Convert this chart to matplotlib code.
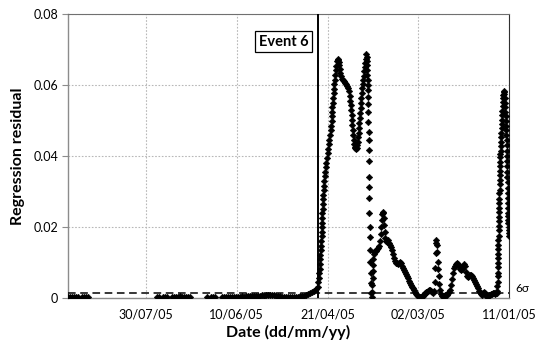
import numpy as np
import pandas as pd
import matplotlib
matplotlib.use("Agg")
import matplotlib.pyplot as plt
import matplotlib.dates as mdates
from matplotlib.transforms import blended_transform_factory

plt.rcParams['font.family'] = ['Lato', 'DejaVu Sans']

# time is counted in days from 11/01/05
base = pd.Timestamp('2005-01-11')

# quiet period before the event (sparse clusters, then continuous)
quiet_days = [242.8, 241.7, 240.6, 239.5, 238.4, 237.3,
              235.1, 234.0, 232.9, 231.8,
              193.8, 192.7, 190.5, 189.4, 188.3,
              185.5, 184.4, 183.3, 182.2, 181.1, 180.0, 178.9, 177.8, 176.7, 175.6,
              166.3, 164.0, 162.9, 161.8,
              158.0, 156.9, 155.8, 154.7, 153.6, 152.5, 151.4, 150.3, 149.2,
              148.1, 147.0, 145.9, 144.8, 143.7, 142.6, 141.5, 140.4, 139.3, 138.2,
              137.1, 136.0, 134.9, 133.8, 132.7, 131.6, 130.5, 129.4, 128.3, 127.2,
              126.1, 125.0, 123.9, 122.8, 121.7, 120.6, 119.5, 118.4, 117.3, 116.2,
              115.1, 114.0, 112.9, 111.8, 110.7, 109.6, 108.5, 107.4, 106.3]
quiet_resid = [0.0002, 0.0003, 0.0001, 0.0002, 0.0003, 0.0002,
               0.0003, 0.0002, 0.0002, 0.0003,
               0.0002, 0.0003, 0.0002, 0.0001, 0.0003,
               0.0002, 0.0003, 0.0001, 0.0002, 0.0004, 0.0002, 0.0003, 0.0001, 0.0002, 0.0003,
               0.0002, 0.0001, 0.0003, 0.0002,
               0.0001, 0.0002, 0.0001, 0.0002, 0.0002, 0.0003, 0.0002, 0.0003, 0.0003,
               0.0003, 0.0004, 0.0003, 0.0004, 0.0005, 0.0004, 0.0005, 0.0005, 0.0006, 0.0006,
               0.0006, 0.0007, 0.0006, 0.0007, 0.0007, 0.0008, 0.0007, 0.0007, 0.0006, 0.0005,
               0.0004, 0.0003, 0.0002, 0.0002, 0.0001, 0.0001, 0.0001, 0.0002, 0.0002, 0.0003,
               0.0004, 0.0005, 0.0006, 0.0008, 0.0010, 0.0012, 0.0015, 0.0019, 0.0024]

# event 6: steep rise, double peak and drop
event_days = [105.4, 105.1, 104.9, 104.6, 104.4, 104.3, 104.1, 103.9, 103.8, 103.6,
              103.5, 103.3, 103.1, 103.0, 102.9, 102.8, 102.8, 102.7, 102.6, 102.4,
              102.3, 102.2, 101.9, 101.7, 101.5, 101.2, 101.0, 100.7, 100.3, 100.0,
              99.7, 99.3, 99.0, 98.5, 98.1, 97.9, 97.8, 97.5, 97.4, 97.3,
              97.1, 96.8, 96.7, 96.5, 96.2, 96.0, 95.8, 95.6, 95.3, 94.9,
              94.4, 94.1, 93.9, 93.6, 93.3, 93.0, 92.5, 91.9, 91.4, 90.8,
              90.3, 89.7, 89.2, 88.6, 88.1, 87.7, 87.4, 87.1, 86.9, 86.7,
              86.5, 86.3, 86.0, 85.8, 85.5, 85.2, 84.9, 84.6, 84.2, 83.9,
              83.6, 83.3, 83.0, 82.8, 82.6, 82.4, 82.1, 81.9, 81.7, 81.5,
              81.3, 81.0, 80.8, 80.5, 80.2, 79.9, 79.7, 79.4, 79.2, 78.9,
              78.7, 78.28, 78.17, 78.11, 78.06, 78.00, 77.95, 77.89, 77.84, 77.73,
              77.62, 77.51, 77.45, 77.40, 77.34, 77.29, 77.23, 77.18, 77.07, 77.01,
              76.90, 76.79, 76.68, 76.57, 76.41, 76.24, 76.08, 75.86, 75.64]
event_resid = [0.0030, 0.0043, 0.0056, 0.0069, 0.0082, 0.0095, 0.0108, 0.0121, 0.0134, 0.0147,
               0.0160, 0.0173, 0.0186, 0.0199, 0.0212, 0.0225, 0.0238, 0.0251, 0.0264, 0.0277,
               0.0290, 0.0303, 0.0316, 0.0329, 0.0342, 0.0355, 0.0368, 0.0381, 0.0394, 0.0407,
               0.0420, 0.0433, 0.0446, 0.0459, 0.0472, 0.0485, 0.0498, 0.0511, 0.0524, 0.0537,
               0.0550, 0.0563, 0.0576, 0.0589, 0.0602, 0.0615, 0.0628, 0.0641, 0.0654, 0.0667,
               0.0670, 0.0672, 0.0665, 0.0655, 0.0645, 0.0635, 0.0625, 0.0618, 0.0614, 0.0610,
               0.0606, 0.0602, 0.0597, 0.0590, 0.0582, 0.0570, 0.0556, 0.0542, 0.0528, 0.0514,
               0.0500, 0.0486, 0.0472, 0.0458, 0.0445, 0.0434, 0.0426, 0.0421, 0.0419, 0.0422,
               0.0430, 0.0440, 0.0452, 0.0465, 0.0479, 0.0493, 0.0507, 0.0521, 0.0535, 0.0549,
               0.0563, 0.0577, 0.0590, 0.0602, 0.0614, 0.0626, 0.0638, 0.0650, 0.0662, 0.0674,
               0.0686, 0.0680, 0.0668, 0.0655, 0.0642, 0.0629, 0.0615, 0.0600, 0.0585, 0.0565,
               0.0545, 0.0524, 0.0496, 0.0468, 0.0444, 0.0416, 0.0386, 0.0341, 0.0313, 0.0280,
               0.0238, 0.0200, 0.0172, 0.0134, 0.0100, 0.0070, 0.0041, 0.0012, 0.0003]

# recovery with smaller bursts
recovery_days = [75.4, 75.3, 75.2, 75.1, 75.0, 74.8, 74.6, 74.3, 73.8, 73.2,
                 72.7, 72.1, 71.6, 71.1, 70.7, 70.5, 70.2, 69.9, 69.6, 69.3,
                 69.0, 68.7, 68.4, 68.1, 67.7, 67.2, 66.6, 66.1, 65.5, 65.0,
                 64.4, 63.9, 63.3, 62.8, 62.2, 61.7, 61.1, 60.6, 60.0, 59.5,
                 58.9, 58.4, 57.8, 57.3, 56.7, 56.2, 55.6, 55.1, 54.5, 54.0,
                 53.4, 52.9, 52.3, 51.8, 51.2, 50.7, 50.1, 49.6, 49.0, 48.4,
                 47.9, 47.3, 46.8, 46.2, 45.7, 45.1, 44.6, 44.0, 43.5, 42.9,
                 42.4, 41.8, 41.3, 41.0, 40.7, 40.5, 40.3, 40.1, 39.8, 39.5,
                 39.3, 39.0, 38.7, 38.3, 38.0, 37.4, 36.9, 36.3, 35.8, 35.2,
                 34.7, 34.1, 33.6, 33.0, 32.5, 31.9, 31.4, 30.8, 30.3, 29.7,
                 29.2, 28.6, 28.1, 27.5, 27.0, 26.4, 25.9, 25.3, 24.8, 24.2,
                 23.7, 23.1, 22.6, 22.0, 21.5, 20.9, 20.4, 19.8, 19.3, 18.7,
                 18.2, 17.6, 17.1, 16.5, 16.0, 15.4, 14.9, 14.3, 13.8, 13.2,
                 12.7, 12.1, 11.6, 11.0, 10.5, 9.9, 9.4, 8.8, 8.3, 7.7,
                 7.2, 6.7]
recovery_resid = [0.0015, 0.0035, 0.0055, 0.0075, 0.0093, 0.0110, 0.0122, 0.0128, 0.0131, 0.0133,
                  0.0136, 0.0140, 0.0146, 0.0160, 0.0180, 0.0200, 0.0220, 0.0235, 0.0242, 0.0238,
                  0.0225, 0.0205, 0.0185, 0.0168, 0.0160, 0.0158, 0.0162, 0.0155, 0.0148, 0.0143,
                  0.0135, 0.0122, 0.0112, 0.0104, 0.0099, 0.0097, 0.0096, 0.0099, 0.0100, 0.0098,
                  0.0090, 0.0083, 0.0078, 0.0073, 0.0067, 0.0060, 0.0055, 0.0048, 0.0041, 0.0035,
                  0.0030, 0.0026, 0.0021, 0.0016, 0.0011, 0.0007, 0.0004, 0.0003, 0.0002, 0.0003,
                  0.0005, 0.0006, 0.0009, 0.0012, 0.0015, 0.0017, 0.0019, 0.0021, 0.0021, 0.0020,
                  0.0016, 0.0014, 0.0020, 0.0045, 0.0085, 0.0125, 0.0155, 0.0163, 0.0150, 0.0128,
                  0.0102, 0.0080, 0.0060, 0.0040, 0.0022, 0.0010, 0.0006, 0.0005, 0.0006, 0.0007,
                  0.0007, 0.0008, 0.0012, 0.0017, 0.0023, 0.0035, 0.0052, 0.0070, 0.0084, 0.0090,
                  0.0094, 0.0097, 0.0094, 0.0088, 0.0080, 0.0078, 0.0082, 0.0090, 0.0096, 0.0090,
                  0.0072, 0.0062, 0.0059, 0.0061, 0.0063, 0.0064, 0.0061, 0.0055, 0.0050, 0.0045,
                  0.0038, 0.0032, 0.0026, 0.0020, 0.0015, 0.0010, 0.0008, 0.0012, 0.0016, 0.0014,
                  0.0006, 0.0004, 0.0006, 0.0008, 0.0009, 0.0010, 0.0011, 0.0012, 0.0012, 0.0011,
                  0.0012, 0.0014]

# last burst at the start of the record
early_days = [6.44, 6.39, 6.33, 6.28, 6.22, 6.17, 6.11, 6.06, 6.00, 5.95,
              5.89, 5.84, 5.78, 5.73, 5.67, 5.62, 5.56, 5.51, 5.45, 5.39,
              5.34, 5.28, 5.23, 5.17, 5.12, 5.06, 5.01, 4.95, 4.90, 4.84,
              4.73, 4.62, 4.51, 4.40, 4.29, 4.18, 4.07, 3.96, 3.85, 3.74,
              3.63, 3.52, 3.41, 3.30, 3.14, 2.92, 2.70, 2.48, 2.31, 2.20,
              2.09, 1.98, 1.87, 1.76, 1.65, 1.54, 1.43, 1.32, 1.21, 1.10,
              1.05, 0.99, 0.94, 0.88, 0.83, 0.77, 0.72, 0.66, 0.61, 0.55,
              0.50, 0.44, 0.39, 0.33, 0.28, 0.22, 0.17, 0.11, 0.06]
early_resid = [0.0020, 0.0034, 0.0045, 0.0060, 0.0071, 0.0086, 0.0097, 0.0112, 0.0123, 0.0138,
               0.0149, 0.0164, 0.0175, 0.0190, 0.0201, 0.0216, 0.0227, 0.0242, 0.0253, 0.0268,
               0.0279, 0.0294, 0.0305, 0.0320, 0.0331, 0.0346, 0.0357, 0.0372, 0.0383, 0.0397,
               0.0405, 0.0415, 0.0428, 0.0440, 0.0452, 0.0465, 0.0478, 0.0490, 0.0502, 0.0515,
               0.0527, 0.0540, 0.0552, 0.0562, 0.0572, 0.0580, 0.0583, 0.0575, 0.0563, 0.0550,
               0.0537, 0.0524, 0.0511, 0.0498, 0.0485, 0.0472, 0.0459, 0.0445, 0.0430, 0.0415,
               0.0400, 0.0385, 0.0370, 0.0355, 0.0340, 0.0325, 0.0310, 0.0295, 0.0280, 0.0266,
               0.0252, 0.0240, 0.0230, 0.0220, 0.0210, 0.0200, 0.0190, 0.0182, 0.0175]

threshold = 0.0014          # 6 sigma
event_day = 105.5
x_ticks = [0, 50, 100, 150, 200]
y_ticks = [0, 0.02, 0.04, 0.06, 0.08]
y_ticklabels = ['0', '0.02', '0.04', '0.06', '0.08']


def to_dates(days):
    return base + pd.to_timedelta(np.asarray(days), unit='D')


days = quiet_days + event_days + recovery_days + early_days
resid = quiet_resid + event_resid + recovery_resid + early_resid

fig = plt.figure(figsize=(5.42, 3.53), dpi=100)
ax = fig.add_axes([68/542, 1-297.7/353, (509-68)/542, (297.7-14)/353])

ax.plot(to_dates(days), resid, linestyle='none', marker='D', ms=3.3,
        mfc='black', mec='black', mew=0.4, zorder=3)

ax.axhline(threshold, color='black', lw=1.1, ls=(0, (5, 3)), zorder=4)
ax.axvline(to_dates([event_day])[0], color='black', lw=1.4, zorder=4)

ax.text(to_dates([124.3])[0], 0.0722, 'Event 6', ha='center', va='center',
        fontsize=10.5, fontweight='bold', zorder=5,
        bbox=dict(boxstyle='square,pad=0.25', fc='white', ec='black', lw=0.9))

trans = blended_transform_factory(ax.transAxes, ax.transData)
ax.text(1.015, 0.0027, '6σ', transform=trans, ha='left', va='center', fontsize=8.5)

ax.set_xlim(to_dates([243])[0], base)
ax.set_ylim(0, 0.08)
ax.set_xticks(to_dates(x_ticks))
ax.xaxis.set_major_formatter(mdates.DateFormatter('%d/%m/%y'))
ax.set_yticks(y_ticks)
ax.set_yticklabels(y_ticklabels)
ax.tick_params(axis='x', length=0, labelsize=9, pad=8)
ax.tick_params(axis='y', length=4, color='#8c8c8c', labelsize=9, pad=3)

ax.grid(True, color='#b8b8b8', lw=0.8, ls=(0, (1.5, 1.5)), zorder=0)
ax.set_axisbelow(True)

for side in ['left', 'bottom']:
    ax.spines[side].set_color('#8c8c8c')
    ax.spines[side].set_linewidth(1.0)
ax.spines['right'].set_color('#303030')
ax.spines['top'].set_color('#707070')
ax.spines['top'].set_linestyle((0, (2, 1)))

ax.set_xlabel('Date (dd/mm/yy)', fontsize=11.5, fontweight='bold', labelpad=3)
ax.set_ylabel('Regression residual', fontsize=11.5, fontweight='bold', labelpad=6)

fig.savefig('out.png', dpi=100)
